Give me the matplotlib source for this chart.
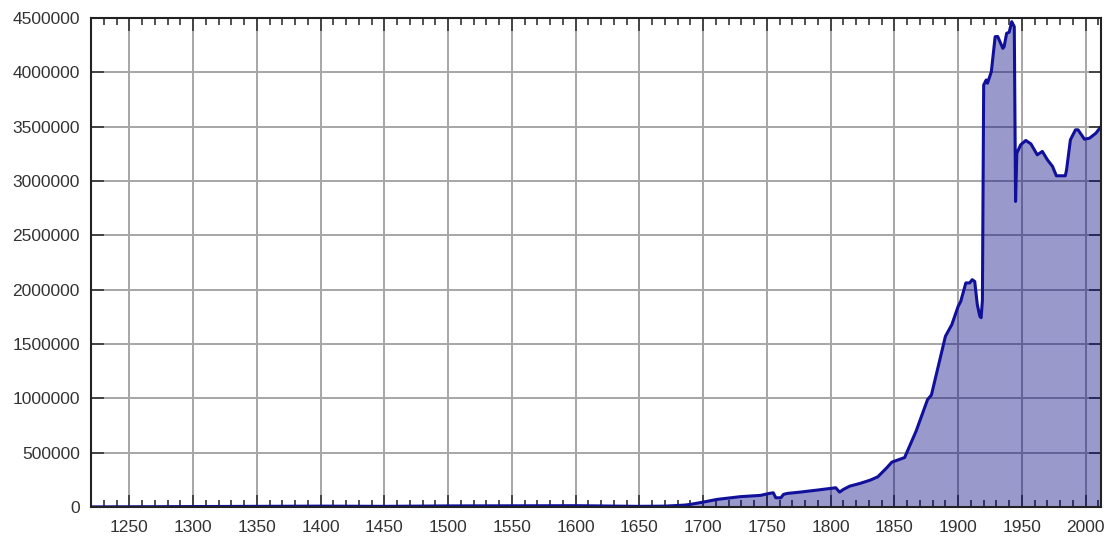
import matplotlib
matplotlib.use("Agg")
import matplotlib.pyplot as plt
from matplotlib.ticker import MultipleLocator

# Einwohner
years = [1220, 1300, 1400, 1450, 1500, 1600, 1618, 1648, 1670, 1685,
         1690, 1700, 1711, 1729, 1745, 1752, 1755, 1757, 1761, 1763,
         1766, 1776, 1789, 1804, 1807, 1810, 1815, 1823, 1831, 1837,
         1844, 1848, 1858, 1867, 1876, 1879, 1890, 1895, 1900, 1902,
         1906, 1909, 1911, 1913, 1915, 1917, 1918, 1919, 1920, 1922,
         1923, 1926, 1929, 1931, 1935, 1936, 1938, 1940, 1942, 1944,
         1945, 1946, 1949, 1953, 1957, 1962, 1966, 1970, 1974, 1977,
         1984, 1985, 1988, 1992, 1994, 1999, 2003, 2008, 2012]
population = [1000, 4000, 8000, 6000, 10000, 12000, 10000, 6000, 8000, 17000,
              24000, 45000, 70000, 95000, 107000, 125000, 131000, 85000, 85000, 116000,
              125000, 137000, 155000, 177000, 137000, 162000, 192000, 217000, 247000, 278000,
              361000, 413000, 455000, 698000, 989000, 1030000, 1571000, 1678000, 1847000, 1892000,
              2062000, 2062000, 2092000, 2075000, 1862000, 1755000, 1742000, 1902000, 3884000, 3930000,
              3900000, 4006000, 4328000, 4330000, 4221000, 4235000, 4359000, 4369000, 4466000, 4420000,
              2812000, 3256000, 3333000, 3373000, 3342000, 3241000, 3272000, 3195000, 3134000, 3048000,
              3048000, 3103000, 3379000, 3471000, 3471000, 3385000, 3394000, 3440000, 3501000]

fig = plt.figure(figsize=(11.13, 5.41), dpi=100)
ax = fig.add_axes([91 / 1113, 34 / 541, 1010 / 1113, 489 / 541])

ax.grid(True, color="#a6a6a6", linewidth=1.4, zorder=0)
ax.fill_between(years, population, 0, color="#000080", alpha=0.4, linewidth=0, zorder=2)
ax.plot(years, population, color="#10109a", linewidth=2.2, zorder=3)

ax.set_xlim(1220, 2012)
ax.set_ylim(0, 4500000)
ax.xaxis.set_major_locator(MultipleLocator(50))
ax.xaxis.set_minor_locator(MultipleLocator(10))
ax.yaxis.set_major_locator(MultipleLocator(500000))
ax.set_xticks(range(1250, 2001, 50))
ax.xaxis.set_minor_locator(MultipleLocator(10))

ax.tick_params(axis="both", which="both", direction="in", top=True, right=True,
               color="#333333", labelsize=12.5, labelcolor="#333333")
ax.tick_params(axis="both", which="major", length=9, width=1.2)
ax.tick_params(axis="x", which="minor", length=5, width=1.2)
ax.tick_params(axis="y", which="major", pad=8)
ax.tick_params(axis="x", which="major", pad=9)
for lab in ax.get_xticklabels() + ax.get_yticklabels():
    lab.set_fontfamily("Liberation Sans")
ax.yaxis.set_major_formatter(plt.FuncFormatter(lambda v, p: "%d" % v))

for s in ax.spines.values():
    s.set_color("#222222")
    s.set_linewidth(1.5)
    s.set_zorder(5)

fig.savefig("out.png", dpi=100)
